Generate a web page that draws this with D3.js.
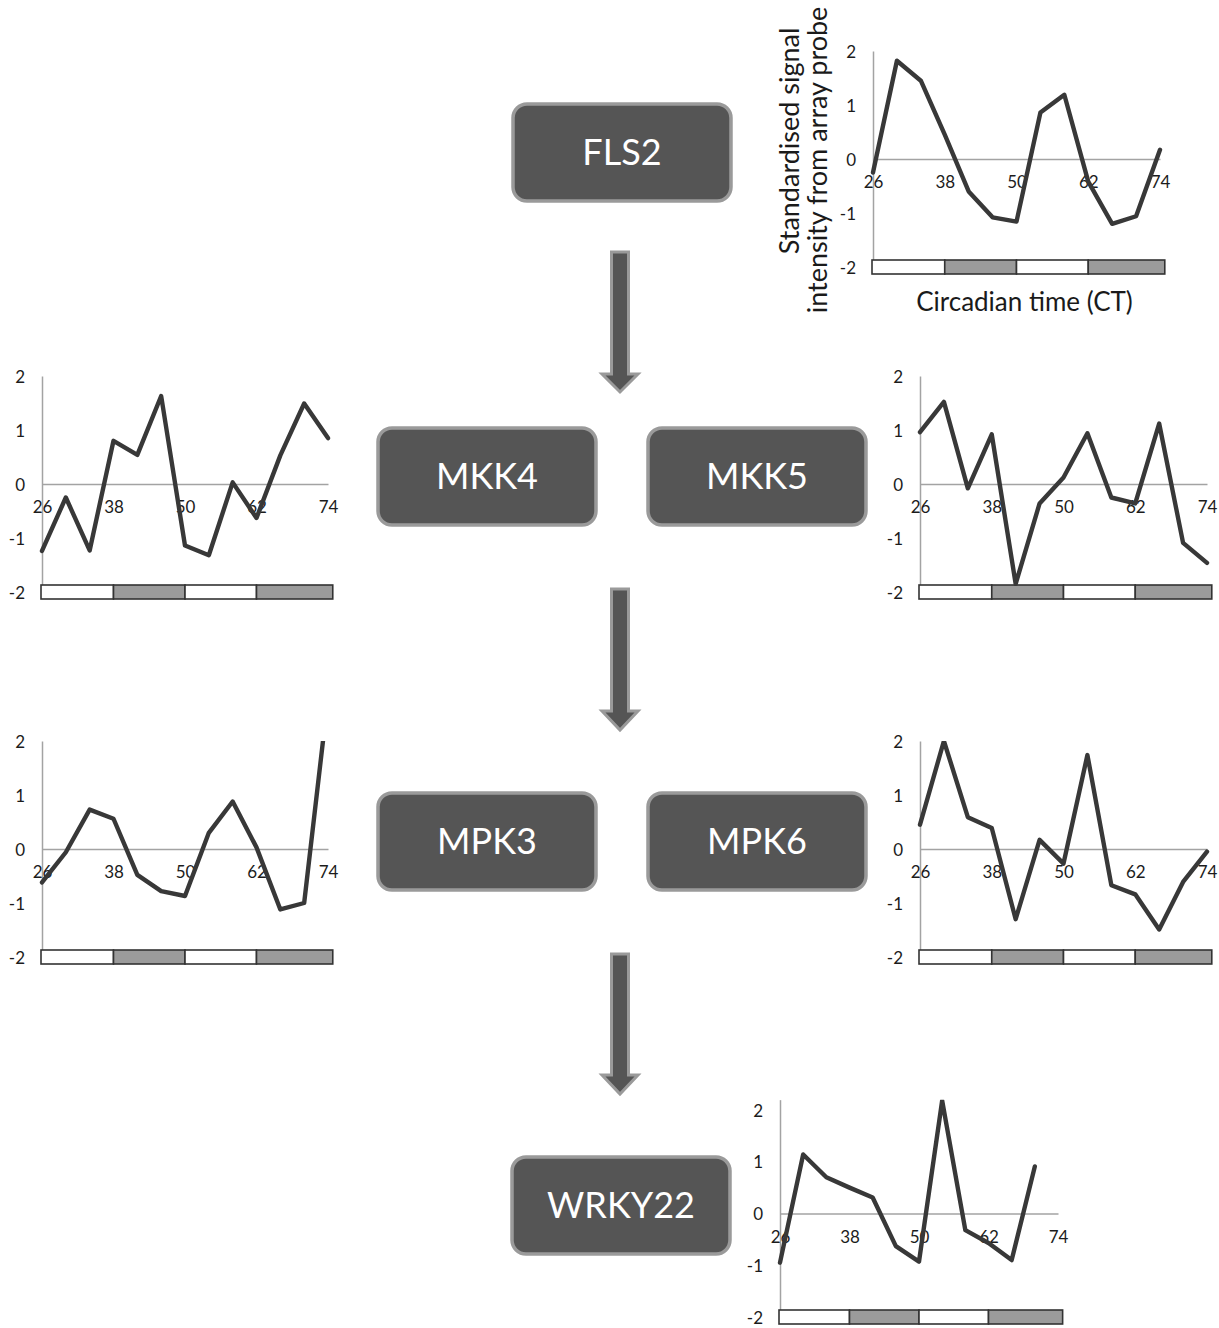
<!doctype html>
<html lang="en">
<head>
<meta charset="utf-8">
<title>FLS2 MAPK cascade circadian expression</title>
<script src="https://d3js.org/d3.v7.min.js"></script>
<style>
  body { margin: 0; background: #fff; }
  svg { display: block; font-family: Lato, "Open Sans", sans-serif; }
  .axis { font-family: Lato, "Open Sans", sans-serif; }
  .tick text { fill: #1c1c1c; font-size: 17px; font-family: Lato, "Open Sans", sans-serif; }
  .axis .domain { stroke: #a3a3a3; stroke-width: 1.5; }
  .gene rect { fill: #555; stroke: #9a9a9a; stroke-width: 3.5; }
  .gene text { fill: #fff; font-size: 36px; }
  .arrow { fill: #555; stroke: #9a9a9a; stroke-width: 3; }
  .trace { fill: none; stroke: #383838; stroke-width: 4.4; stroke-linejoin: round; stroke-linecap: round; }
  .band { stroke: #333; stroke-width: 1.6; }
  .title { fill: #1a1a1a; font-size: 27px; }
  .title.x { font-size: 26px; }
</style>
</head>
<body>
<div id="chart"></div>
<script>
// sampling times (CT, hours) and axis ticks
const times = [26, 30, 34, 38, 42, 46, 50, 54, 58, 62, 66, 70, 74];
const xTicks = [26, 38, 50, 62, 74];
const yTicks = [-2, -1, 0, 1, 2];

// light / dark bar under each plot
const bandEdges = [26, 38, 50, 62, 74.8];
const bandPhase = ['light', 'dark', 'light', 'dark'];

// standardised signal, one array per gene
const fls2 = [-0.25, 1.82, 1.45, 0.45, -0.6, -1.08, -1.16, 0.86, 1.19, -0.42, -1.2, -1.06, 0.17];
const mkk4 = [-1.24, -0.25, -1.23, 0.8, 0.54, 1.63, -1.14, -1.32, 0.03, -0.63, 0.53, 1.49, 0.85];
const mkk5 = [0.96, 1.52, -0.08, 0.92, -1.85, -0.36, 0.12, 0.94, -0.25, -0.36, 1.12, -1.09, -1.46];
const mpk3 = [-0.62, -0.06, 0.73, 0.56, -0.48, -0.78, -0.87, 0.3, 0.88, 0.03, -1.12, -1.0, 2.8];
const mpk6 = [0.45, 2.0, 0.59, 0.39, -1.3, 0.17, -0.27, 1.74, -0.67, -0.84, -1.49, -0.61, -0.05];
const wrky22 = [-0.95, 1.14, 0.7, 0.5, 0.31, -0.63, -0.93, 2.18, -0.32, -0.57, -0.9, 0.91]; // no value at CT74

const genes = ['FLS2', 'MKK4', 'MKK5', 'MPK3', 'MPK6', 'WRKY22'];
const series = [fls2, mkk4, mkk5, mpk3, mpk6, wrky22];

const yTitle = ['Standardised signal', 'intensity from array probe'];
const xTitle = 'Circadian time (CT)';

// ---- layout (pixels) ----
const W = 1219, H = 1328;
const boxes = [ // gene boxes
  {x: 513, y: 104}, {x: 378, y: 428}, {x: 648, y: 428},
  {x: 378, y: 793}, {x: 648, y: 793}, {x: 512, y: 1157}
];
const boxW = 218, boxH = 97;
// plot panels: x pixel of CT26 / CT74, y pixel of -2 / +2, top of axis in data units
const panels = [
  {x0: 873, x1: 1160, yLo: 267, yHi: 51, top: 2},
  {x0: 42, x1: 328, yLo: 592, yHi: 376, top: 2},
  {x0: 920, x1: 1207, yLo: 592, yHi: 376, top: 2},
  {x0: 42, x1: 328, yLo: 957, yHi: 741, top: 2},
  {x0: 920, x1: 1207, yLo: 957, yHi: 741, top: 2},
  {x0: 780, x1: 1058, yLo: 1317, yHi: 1110, top: 2.2}
];
const arrows = [[252, 374, 392], [589, 711, 730], [954, 1075, 1094]];
const arrowX = 620;

const svg = d3.select('#chart').append('svg')
  .attr('width', W)
  .attr('height', H);

// arrows between steps
svg.selectAll('.arrow')
  .data(arrows)
  .join('path')
  .attr('class', 'arrow')
  .attr('d', ([top, neck, tip]) => {
    const s = 8.5, h = 18;
    return `M${arrowX - s},${top} H${arrowX + s} V${neck} H${arrowX + h} L${arrowX},${tip} L${arrowX - h},${neck} H${arrowX - s} Z`;
  });

// gene boxes
const gene = svg.selectAll('.gene')
  .data(genes)
  .join('g')
  .attr('class', 'gene')
  .attr('transform', (d, i) => `translate(${boxes[i].x},${boxes[i].y})`);
gene.append('rect')
  .attr('width', boxW)
  .attr('height', boxH)
  .attr('rx', 14);
gene.append('text')
  .attr('x', boxW / 2)
  .attr('y', boxH / 2)
  .attr('dy', '0.36em')
  .attr('text-anchor', 'middle')
  .text(d => d);

// one small line chart per gene
series.forEach((vals, i) => {
  const p = panels[i];
  const x = d3.scaleLinear().domain([26, 74]).range([p.x0, p.x1]);
  const unit = (p.yLo - p.yHi) / 4;
  const y = d3.scaleLinear().domain([-2, p.top]).range([p.yLo, p.yLo - unit * (p.top + 2)]);

  const g = svg.append('g');

  // y axis (line + labels)
  g.append('g')
    .attr('class', 'axis')
    .attr('transform', `translate(${x(26)},0)`)
    .call(d3.axisLeft(y).tickValues(yTicks).tickSize(0).tickPadding(17).tickFormat(d => String(d)))
    .call(a => a.selectAll('.tick text').attr('dy', '0.36em'));

  // x axis along zero
  g.append('g')
    .attr('class', 'axis')
    .attr('transform', `translate(0,${y(0)})`)
    .call(d3.axisBottom(x).tickValues(xTicks).tickSize(0).tickPadding(24))
    .call(a => a.selectAll('.tick text').attr('dy', '0.3em'));

  // light/dark bar
  g.selectAll('.band')
    .data(bandPhase)
    .join('rect')
    .attr('class', 'band')
    .attr('x', (d, k) => x(bandEdges[k]) - (k === 0 ? 1 : 0))
    .attr('width', (d, k) => x(bandEdges[k + 1]) - x(bandEdges[k]) + (k === 0 ? 1 : 0))
    .attr('y', y(-2) - 7)
    .attr('height', 14)
    .attr('fill', d => d === 'light' ? '#fff' : '#9b9b9b');

  // clip the trace at the axis top
  const clipId = 'clip' + i;
  svg.append('clipPath').attr('id', clipId)
    .append('rect')
    .attr('x', x(26) - 10)
    .attr('y', y(p.top))
    .attr('width', x(74) - x(26) + 20)
    .attr('height', y(-2) - y(p.top) + 10);

  const line = d3.line()
    .x((d, k) => x(times[k]))
    .y(d => y(d));

  g.append('path')
    .datum(vals)
    .attr('class', 'trace')
    .attr('clip-path', `url(#${clipId})`)
    .attr('d', line);

  // axis titles only on the first panel
  if (i === 0) {
    const tx = [790, 818], ty = [141, 160];
    yTitle.forEach((t, k) => {
      g.append('text')
        .attr('class', 'title')
        .attr('transform', `translate(${tx[k]},${ty[k]}) rotate(-90)`)
        .attr('text-anchor', 'middle')
        .attr('dy', '0.35em')
        .text(t);
    });
    g.append('text')
      .attr('class', 'title x')
      .attr('x', (x(26) + x(74)) / 2 + 8)
      .attr('y', 302)
      .attr('dy', '0.35em')
      .attr('text-anchor', 'middle')
      .text(xTitle);
  }
});
</script>
</body>
</html>
